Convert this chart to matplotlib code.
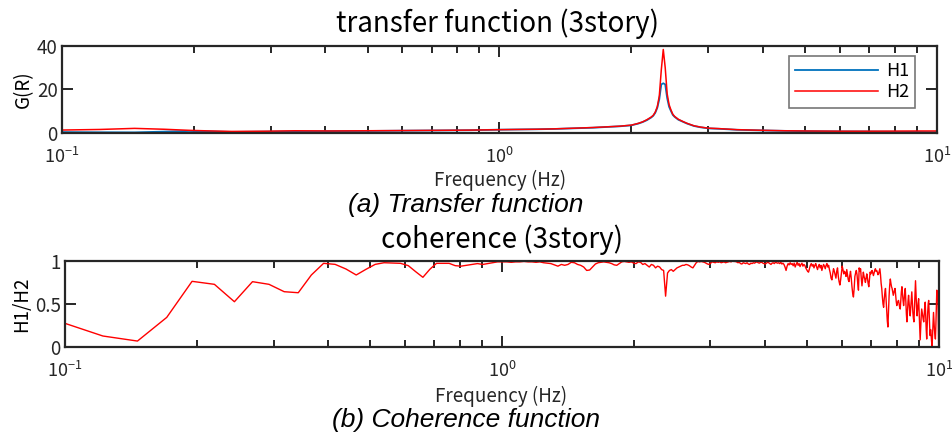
import numpy as np
import matplotlib

matplotlib.use("Agg")
import matplotlib.pyplot as plt

plt.rcParams["font.family"] = ["Noto Sans CJK JP", "DejaVu Sans"]

OUT_PNG = "out.png"

# FFT bin spacing (Hz) and first bin shown
FREQ_STEP = 0.024414
FIRST_BIN = 4

# transfer function, sampled at selected bins
tf_bins = [4, 5, 6, 7, 8, 9, 10, 12, 14, 17, 20, 25, 30, 35, 41, 45, 50, 55,
           61, 67, 72, 77, 82, 85, 87, 89, 91, 92, 93, 94, 95, 96, 97, 98, 99,
           100, 101, 102, 103, 105, 108, 110, 114, 118, 123, 130, 143, 164,
           184, 205, 246, 287, 328, 369, 410]
h1_gain = [0.3, 0.2, 0.15, 0.5, 0.8, 0.6, 0.35, 0.5, 0.6, 0.75, 0.8, 0.95,
           1.05, 1.15, 1.4, 1.5, 1.6, 1.75, 2.05, 2.3, 2.65, 2.95, 3.4, 4.2,
           4.9, 5.8, 7.0, 7.8, 9.2, 11.5, 15.5, 22.3, 22.8, 22.3, 16.0, 12.0,
           10.0, 8.2, 7.3, 6.0, 4.9, 4.2, 3.1, 2.5, 2.0, 1.8, 1.35, 1.05, 0.85,
           0.72, 0.6, 0.55, 0.45, 0.35, 0.2]
h2_gain = [1.2, 1.5, 2.0, 1.6, 1.1, 0.8, 0.6, 0.7, 0.9, 0.8, 0.9, 1.0, 1.1,
           1.2, 1.4, 1.5, 1.6, 1.8, 2.1, 2.4, 2.7, 3.0, 3.5, 4.3, 5.0, 6.0,
           7.2, 8.0, 9.5, 12.0, 17.0, 29.0, 38.4, 30.0, 18.0, 13.0, 10.5, 8.5,
           7.5, 6.2, 5.0, 4.3, 3.2, 2.6, 2.1, 1.9, 1.4, 1.1, 0.9, 0.8, 0.7,
           0.7, 0.75, 0.8, 0.8]

# coherence H1/H2, one value per bin starting at FIRST_BIN
coh_low = [0.29, 0.125, 0.066, 0.342, 0.763, 0.728, 0.525, 0.759, 0.728,
           0.642, 0.630, 0.837, 0.973, 0.961, 0.907, 0.837, 0.903, 0.961,
           0.98, 0.977, 0.973, 0.946, 0.875, 0.81, 0.903, 0.973, 0.973, 0.973,
           0.946, 0.94]
coh_mid = [0.95, 0.96, 0.97, 0.96, 0.97, 0.98, 0.99, 0.99, 0.99, 0.985,
           0.99, 0.99, 0.995, 0.99, 0.99, 0.985, 0.99, 0.98, 0.975, 0.97,
           0.955, 0.94, 0.96, 0.95, 0.96, 0.985, 0.98, 0.96, 0.95, 0.93,
           0.89, 0.895, 0.93, 0.965, 0.98, 0.985, 0.99, 0.985, 0.98, 0.97,
           0.955, 0.95, 0.97, 0.99, 0.995, 0.99, 0.985, 0.99, 0.975, 0.97,
           0.99, 0.985, 0.96, 0.97, 0.95, 0.93, 0.96, 0.95, 0.92]
coh_peak = [0.94, 0.93, 0.90, 0.89, 0.59, 0.86, 0.89, 0.90, 0.88, 0.90,
            0.92, 0.93, 0.94, 0.95, 0.95, 0.96, 0.955, 0.945, 0.93, 0.92,
            0.95, 0.98, 0.995, 0.99, 0.995, 0.99, 0.985, 0.975, 0.965, 0.96,
            0.975, 0.99, 0.985, 0.98, 0.99, 0.985, 0.99, 0.98, 0.985, 0.99,
            0.98, 0.985, 0.99, 0.995, 0.99, 1.0, 0.995, 0.995, 0.99, 0.98,
            0.985, 0.97, 0.965, 0.98, 0.975, 0.97, 0.98, 0.965, 0.96, 0.975,
            0.97, 0.98, 0.975, 0.985, 0.99, 0.98, 0.975, 0.985, 0.985, 0.975,
            0.97, 0.965, 0.975, 0.985, 0.98, 0.97, 0.96, 0.975, 0.98, 0.97,
            0.985, 0.98]
coh_4to5 = [0.975, 0.98, 0.97, 0.985, 0.965, 0.975, 0.96, 0.93, 0.89, 0.94,
            0.97, 0.955, 0.98, 0.96, 0.97, 0.945, 0.975, 0.93, 0.96, 0.985,
            0.95, 0.97, 0.935, 0.96, 0.975, 0.94]
coh_5to6 = [0.96, 0.95, 0.92, 0.90, 0.88, 0.87, 0.91, 0.95, 0.97, 0.94,
            0.96, 0.92, 0.95, 0.97, 0.93, 0.90, 0.94, 0.96, 0.92, 0.95,
            0.89, 0.93, 0.96, 0.94, 0.91, 0.95, 0.97, 0.93, 0.95, 0.90,
            0.86, 0.80]
coh_6to7 = [0.78, 0.85, 0.91, 0.88, 0.84, 0.80, 0.88, 0.92, 0.82, 0.76,
            0.72, 0.78, 0.86, 0.94, 0.90, 0.85, 0.88, 0.86, 0.82, 0.90,
            0.84, 0.78, 0.76, 0.83, 0.88, 0.80, 0.70, 0.62, 0.58, 0.68,
            0.82, 0.86, 0.89, 0.84, 0.74, 0.66]
coh_high = [0.92, 0.88, 0.91, 0.80, 0.71, 0.79, 0.87, 0.82, 0.79, 0.75,
            0.80, 0.85, 0.80, 0.74, 0.70, 0.78, 0.87, 0.85, 0.88, 0.89,
            0.86, 0.83, 0.86, 0.89, 0.91, 0.88, 0.89, 0.87, 0.84, 0.85,
            0.88, 0.91, 0.84, 0.74, 0.68, 0.58, 0.50, 0.46, 0.56, 0.63,
            0.68, 0.55, 0.42, 0.30, 0.23, 0.42, 0.60, 0.72, 0.79, 0.74,
            0.70, 0.68, 0.64, 0.60, 0.63, 0.66, 0.68, 0.60, 0.53, 0.48,
            0.51, 0.53, 0.54, 0.50, 0.46, 0.44, 0.55, 0.64, 0.70, 0.62,
            0.54, 0.48, 0.56, 0.63, 0.68, 0.52, 0.38, 0.29, 0.42, 0.53,
            0.60, 0.50, 0.42, 0.36, 0.46, 0.56, 0.64, 0.52, 0.40, 0.33,
            0.29, 0.45, 0.62, 0.77, 0.60, 0.46, 0.36, 0.44, 0.51, 0.56,
            0.40, 0.25, 0.08, 0.22, 0.35, 0.44, 0.40, 0.36, 0.32, 0.29,
            0.38, 0.46, 0.52, 0.36, 0.20, 0.09, 0.25, 0.40, 0.50, 0.54,
            0.38, 0.24, 0.13, 0.20, 0.14, 0.06, 0.00, 0.14, 0.28, 0.40,
            0.30, 0.20, 0.14, 0.09, 0.25, 0.45, 0.66, 0.55, 0.64, 0.38,
            0.00, 0.02]

coherence = coh_low + coh_mid + coh_peak + coh_4to5 + coh_5to6 + coh_6to7 + coh_high

BLUE = "#0072BD"
RED = "#FF0000"
AX_COLOR = "#262626"


def style_axes(ax):
    ax.set_xscale("log")
    ax.set_xlim(0.1, 10)
    for side in ax.spines.values():
        side.set_linewidth(1.6)
        side.set_color(AX_COLOR)
    ax.tick_params(which="both", direction="in", top=True, right=True,
                   colors=AX_COLOR, labelcolor="#262626", width=1.4,
                   labelsize=13.5)
    ax.tick_params(which="major", length=8)
    ax.tick_params(which="minor", length=5)
    ax.tick_params(axis="x", which="major", pad=10, labelsize=13)
    ax.tick_params(axis="y", which="major", pad=3)


def main():
    fig = plt.figure(figsize=(9.52, 4.37), dpi=100)

    # transfer function panel
    ax1 = fig.add_axes([0.0651, 0.6963, 0.9191, 0.1984])
    style_axes(ax1)
    tf_freq = np.array(tf_bins) * FREQ_STEP
    ax1.plot(tf_freq, h1_gain, color=BLUE, linewidth=1.3, label="H1")
    ax1.plot(tf_freq, h2_gain, color=RED, linewidth=1.1, label="H2")
    ax1.set_ylim(0, 40)
    ax1.set_yticks([0, 20, 40])
    ax1.set_ylabel("G(R)", fontsize=13.5, labelpad=2)
    leg = ax1.legend(loc="upper right", bbox_to_anchor=(0.975, 0.89),
                     fontsize=13, frameon=True, fancybox=False,
                     handlelength=4.6, borderpad=0.35, labelspacing=0.2,
                     handletextpad=0.4, borderaxespad=0)
    leg.get_frame().set_edgecolor("#555555")
    leg.get_frame().set_linewidth(1.2)

    fig.text(0.523, 0.945, "transfer function (3story)", ha="center",
             va="center", fontsize=20)
    fig.text(0.525, 0.586, "Frequency (Hz)", ha="center", va="center",
             fontsize=13.5, color="#262626")
    fig.text(0.489, 0.530, "(a) Transfer function", ha="center",
             va="center", fontsize=19, style="italic",
             family="Liberation Sans")

    # coherence panel
    ax2 = fig.add_axes([0.0683, 0.2066, 0.9180, 0.1961])
    style_axes(ax2)
    coh_freq = FREQ_STEP * np.arange(FIRST_BIN, FIRST_BIN + len(coherence))
    ax2.plot(coh_freq, coherence, color=RED, linewidth=1.0)
    ax2.set_ylim(0, 1)
    ax2.set_yticks([0, 0.5, 1])
    ax2.set_yticklabels(["0", "0.5", "1"])
    ax2.set_ylabel("H1/H2", fontsize=13.5, labelpad=2)

    fig.text(0.527, 0.451, "coherence (3story)", ha="center", va="center",
             fontsize=20)
    fig.text(0.526, 0.094, "Frequency (Hz)", ha="center", va="center",
             fontsize=13.5, color="#262626")
    fig.text(0.489, 0.038, "(b) Coherence function", ha="center",
             va="center", fontsize=19, style="italic",
             family="Liberation Sans")

    fig.savefig(OUT_PNG, dpi=100)


if __name__ == "__main__":
    main()
